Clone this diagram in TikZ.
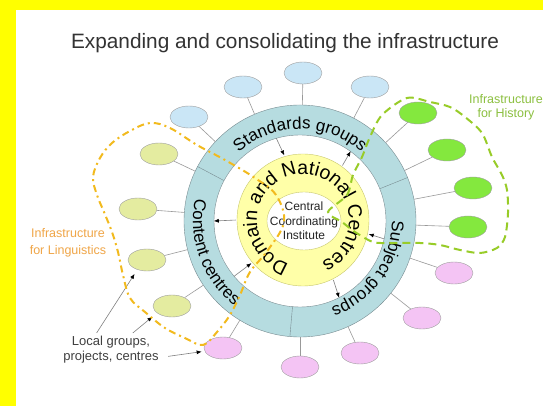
\documentclass[tikz,border=0pt]{standalone}
\usepackage{fontspec}
\setmainfont{Liberation Sans}
\usetikzlibrary{arrows.meta,shapes.geometric,decorations.text,calc}

\definecolor{frameyellow}{RGB}{255,255,0}
\definecolor{ringteal}{RGB}{182,220,224}
\definecolor{ringedge}{RGB}{120,140,145}
\definecolor{ringyellow}{RGB}{255,255,168}
\definecolor{yellowedge}{RGB}{200,200,110}
\definecolor{stdblue}{RGB}{202,230,246}
\definecolor{lingolive}{RGB}{228,236,160}
\definecolor{histgreen}{RGB}{132,232,62}
\definecolor{subjpink}{RGB}{244,196,244}
\definecolor{lingorange}{RGB}{242,186,30}
\definecolor{histdash}{RGB}{152,204,40}
\definecolor{lingtext}{RGB}{240,166,72}
\definecolor{histtext}{RGB}{140,192,64}

\tikzset{
  blob/.style={ellipse, draw=gray!75, minimum width=38pt, minimum height=22pt, inner sep=0pt},
  link/.style={draw=gray!80, line width=0.6pt},
  flow/.style={draw=gray, line width=0.6pt, -{Latex[black,length=5pt,width=4pt]}},
  lingloop/.style={draw=lingorange, line width=2pt, dash pattern=on 7pt off 4pt on 2pt off 4pt},
  histloop/.style={draw=histdash, line width=2pt, dash pattern=on 8pt off 5pt},
}

\begin{document}
\begin{tikzpicture}[x=1pt,y=1pt]
    \useasboundingbox (-300,-185) rectangle (243,221);
    % Frame and background
    \fill[frameyellow] (-300,-185) rectangle (243,221);
    \fill[white] (-284,-185) rectangle (243,211);
    \node[font=\fontsize{20.8}{24}\selectfont, text=black!80] (title) at (-15,178)
      {Expanding and consolidating the infrastructure};
    \def\showRings{
      \node[circle, draw=ringedge, fill=ringteal, minimum size=232pt, inner sep=0pt] (tout) at (0,0) {};
      \node[circle, draw=ringedge, fill=white, minimum size=172pt, inner sep=0pt] (tin) at (0,0) {};
      \node[circle, draw=yellowedge, fill=ringyellow, minimum size=132pt, inner sep=0pt] (yring) at (3,1) {};
      \node[ellipse, draw=yellowedge, fill=white, minimum width=74pt, minimum height=58pt, inner sep=0pt] (cci) at (4,0) {};
      \node[align=center, font=\fontsize{12}{14.5}\selectfont, text=black!85] (cciText) at (cci.center)
        {Central\\Coordinating\\Institute};
      % Draw segment borders
      \foreach \a in {152,22,265}
        \draw[ringedge] (tin.\a) -- (tout.\a);
    }
    \def\showRingText{
      \path[decorate, decoration={text along path, text align=center,
          text={|\fontsize{17}{19}\selectfont|Standards groups}}]
        (150:92) arc[start angle=150, end angle=30, radius=92];
      \path[decorate, decoration={text along path, text align=center,
          text={|\fontsize{17}{19}\selectfont|Subject groups}}]
        (15:92) arc[start angle=15, end angle=-85, radius=92];
      \path[decorate, decoration={text along path, text align=center,
          text={|\fontsize{17}{19}\selectfont|Content centres}}]
        (155:107) arc[start angle=155, end angle=245, radius=107];
      \path[decorate, decoration={text along path, text align=center,
          text={|\fontsize{19.5}{22}\selectfont|Domain and National Centres}}]
        ($(yring.center)+(265:46)$) arc[start angle=265, end angle=-79, radius=46];
    }
    \def\showBlobs{
      \foreach \i/\x/\y in {1/-111/104, 2/-57/134, 3/3/148, 4/70/134}
        \node[blob, fill=stdblue] (b\i) at (\x,\y) {};
      \foreach \i/\x/\y in {1/118/108, 2/147/71, 3/173/33, 4/168/-6}
        \node[blob, fill=histgreen] (g\i) at (\x,\y) {};
      \foreach \i/\x/\y in {1/154/-52, 2/122/-97, 3/60/-132, 4/0/-146, 5/-77/-127}
        \node[blob, fill=subjpink] (p\i) at (\x,\y) {};
      \foreach \i/\x/\y in {1/-141/67, 2/-162/12, 3/-153/-39, 4/-128/-85}
        \node[blob, fill=lingolive] (o\i) at (\x,\y) {};
      % Draw links to the ring
      \foreach \n in {b1,b2,b3,b4,g1,g2,g3,g4,p1,p2,p3,p4,p5,o1,o2,o3,o4}
        \draw[link] (\n) -- (tout);
    }
    \def\showArrows{
      % inward
      \foreach \a in {106,348,220}
        \draw[flow, shorten >=1pt] (tin.\a) -- (yring.\a);
      % outward
      \foreach \a in {54,180,297}
        \draw[flow, shorten <=1pt] (yring.\a) -- (tin.\a);
    }
    \def\showLabels{
      \node[align=center, font=\fontsize{12.5}{16.5}\selectfont, text=lingtext] (lingLabel) at (-232,-22)
        {Infrastructure\\for Linguistics};
      \node[align=center, font=\fontsize{12.5}{14}\selectfont, text=histtext] (histLabel) at (206,114)
        {Infrastructure\\for History};
      \node[align=center, font=\fontsize{13}{15}\selectfont, text=black!75] (localLabel) at (-189,-129)
        {Local groups,\\projects, centres};
      \draw[flow, shorten >=5pt] (localLabel.130) -- (o3.225);
      \draw[flow, shorten >=6pt] (localLabel.38) -- (o4.205);
      \draw[flow, shorten <=6pt, shorten >=3pt] (localLabel.-8) -- (p5.190);
    }
    \def\showLoops{
      \draw[lingloop] plot[smooth cycle, tension=0.6] coordinates {
        (-16,-1) (-24,26) (-45,43) (-75,61) (-103,76) (-130,93) (-150,98)
        (-170,90) (-188,78) (-200,63) (-207,44) (-203,26) (-196,9) (-188,-11)
        (-182,-31) (-177,-54) (-170,-77) (-155,-91) (-135,-107) (-115,-117)
        (-97,-124) (-83,-111) (-70,-94) (-60,-74) (-50,-51) (-32,-29)};
      \draw[histloop] plot[smooth cycle, tension=0.5] coordinates {
        (28,9) (47,26) (53,46) (62,64) (70,84) (82,106) (107,123) (130,119)
        (150,114) (165,104) (182,88) (192,64) (202,46) (207,31) (208,8)
        (205,-16) (197,-27) (180,-32) (160,-29) (140,-24) (120,-22) (90,-22)
        (73,-21) (55,-11) (42,-1)};
    }
    \showRings
    \showRingText
    \showBlobs
    \showArrows
    \showLabels
    \showLoops
\end{tikzpicture}
\end{document}
